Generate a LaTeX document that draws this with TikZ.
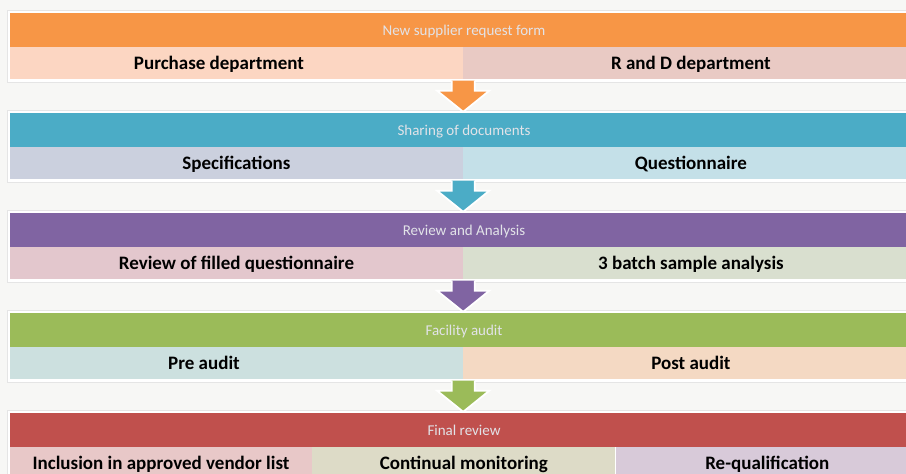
\documentclass[tikz,border=0pt]{standalone}
\usepackage{fontspec}
\setmainfont{Carlito}
\usetikzlibrary{calc,positioning,backgrounds}

\definecolor{bgGray}{HTML}{F7F7F5}
\definecolor{headText}{HTML}{E2E3E8}
\definecolor{orangeHead}{HTML}{F79646}
\definecolor{purchaseFill}{HTML}{FCD6C2}
\definecolor{rdFill}{HTML}{E9CAC4}
\definecolor{blueHead}{HTML}{4BACC6}
\definecolor{specFill}{HTML}{CBD0DE}
\definecolor{questFill}{HTML}{C4E0E8}
\definecolor{purpleHead}{HTML}{8064A2}
\definecolor{reviewFill}{HTML}{E3C7CD}
\definecolor{batchFill}{HTML}{D9DFCF}
\definecolor{greenHead}{HTML}{9BBB59}
\definecolor{preFill}{HTML}{CCE0DF}
\definecolor{postFill}{HTML}{F4D9C3}
\definecolor{redHead}{HTML}{C0504D}
\definecolor{vendorFill}{HTML}{E8C8C8}
\definecolor{monitorFill}{HTML}{DDDBC7}
\definecolor{requalFill}{HTML}{D8CAD9}

\tikzset{
    header/.style={minimum width=908pt, minimum height=34pt, inner sep=0pt,
        text height=14.5pt, text depth=3pt,
        text=headText, font=\fontsize{15}{15}\selectfont},
    cell/.style={minimum height=32pt, inner sep=0pt,
        text height=17pt, text depth=4pt,
        font=\bfseries\fontsize{19}{19}\selectfont},
    frame/.style={fill=white, draw=black!10, line width=0.6pt},
    blockarrow/.style={draw=white, line width=1.8pt, line join=miter}
}

% block arrow from a split point down to the next header
\newcommand{\flowarrow}[3]{%
    \coordinate (tip) at ($(#1 |- #2.north)+(0,1)$);
    \draw[blockarrow, fill=#3] ($(#1)+(-11.5,-1)$) -- ($(tip)+(-11.5,21)$)
        -- ($(tip)+(-26,21)$) -- (tip) -- ($(tip)+(26,21)$)
        -- ($(tip)+(11.5,21)$) -- ($(#1)+(11.5,-1)$);
}

\begin{document}
\begin{tikzpicture}[x=1pt, y=1pt]

    \clip (0,0) rectangle (906,-474);
    \useasboundingbox (0,0) rectangle (906,-474);

    %% New supplier request form
    \node[header, fill=orangeHead] (h1) at (464,-30) {New supplier request form};
    \node[cell, fill=purchaseFill, minimum width=453pt, below right=0pt of h1.south west] (p1)
        {Purchase department\rule{35pt}{0pt}};
    \node[cell, fill=rdFill, minimum width=455pt, right=0pt of p1] (r1) {R and D department};

    %% Sharing of documents
    \node[header, fill=blueHead] (h2) at (464,-130) {Sharing of documents};
    \node[cell, fill=specFill, minimum width=453pt, below right=0pt of h2.south west] (p2) {Specifications};
    \node[cell, fill=questFill, minimum width=455pt, right=0pt of p2] (r2) {Questionnaire};

    %% Review and Analysis
    \node[header, fill=purpleHead] (h3) at (464,-230) {Review and Analysis};
    \node[cell, fill=reviewFill, minimum width=453pt, below right=0pt of h3.south west] (p3)
        {Review of filled questionnaire};
    \node[cell, fill=batchFill, minimum width=455pt, right=0pt of p3] (r3) {3 batch sample analysis};

    %% Facility audit
    \node[header, fill=greenHead] (h4) at (464,-330) {Facility audit};
    \node[cell, fill=preFill, minimum width=453pt, below right=0pt of h4.south west] (p4)
        {Pre audit\rule{65pt}{0pt}};
    \node[cell, fill=postFill, minimum width=455pt, right=0pt of p4] (r4) {Post audit};

    %% Final review
    \node[header, fill=redHead] (h5) at (464,-430) {Final review};
    \node[cell, fill=vendorFill, minimum width=302pt, below right=0pt of h5.south west] (p5)
        {Inclusion in approved vendor list};
    \node[cell, fill=monitorFill, minimum width=303pt, right=0pt of p5] (m5) {Continual monitoring};
    \node[cell, fill=requalFill, minimum width=303pt, right=0pt of m5] (r5) {Re-qualification};

    % Frames and page
    \begin{scope}[on background layer]
        \fill[bgGray] (0,0) rectangle (906,-474);
        \draw[frame] ($(h1.north west)+(-2.5,2.5)$) rectangle ($(r1.south east)+(2.5,-2.5)$);
        \draw[frame] ($(h2.north west)+(-2.5,2.5)$) rectangle ($(r2.south east)+(2.5,-2.5)$);
        \draw[frame] ($(h3.north west)+(-2.5,2.5)$) rectangle ($(r3.south east)+(2.5,-2.5)$);
        \draw[frame] ($(h4.north west)+(-2.5,2.5)$) rectangle ($(r4.south east)+(2.5,-2.5)$);
        \draw[frame] ($(h5.north west)+(-2.5,2.5)$) rectangle ($(r5.south east)+(2.5,-2.5)$);
    \end{scope}

    % Arrows
    \flowarrow{p1.south east}{h2}{orangeHead}
    \flowarrow{p2.south east}{h3}{blueHead}
    \flowarrow{p3.south east}{h4}{purpleHead}
    \flowarrow{p4.south east}{h5}{greenHead}

\end{tikzpicture}
\end{document}
